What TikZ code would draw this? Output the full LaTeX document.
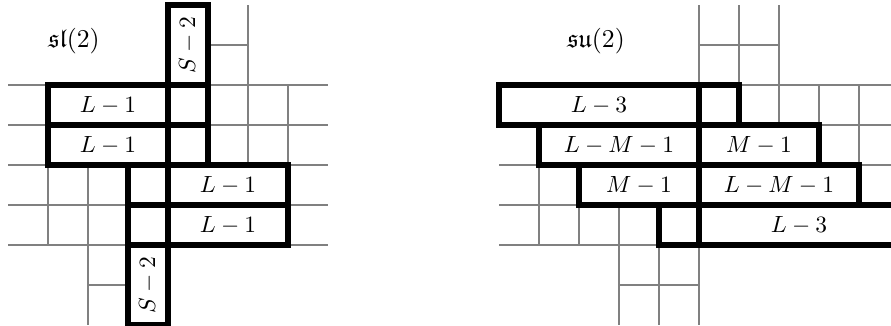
\documentclass[tikz,border=0pt]{standalone}
\usepackage{amssymb}
\usetikzlibrary{fit}
\begin{document}
\begin{tikzpicture}[x=0.6cm,y=-0.6cm,
  gridline/.style={draw=gray, line width=0.8pt},
  cellbox/.style={draw=black, line width=2.6pt, inner sep=0pt, outer sep=0pt, fit={#1}},
  lbl/.style={inner sep=0pt},
  ttl/.style={inner sep=0pt, font=\fontsize{11}{13}\selectfont}
]
\clip (-0.2,-0.125) rectangle (22.075,8);
% ---------------- left panel: sl(2) ----------------
\draw[gridline] (5,1) -- (6,1);
\draw[gridline] (6,0) -- (6,4);
\draw[gridline] (7,2) -- (7,4);
\foreach \r in {2,...,6} {\draw[gridline] (0,\r) -- (8,\r);}
\draw[gridline] (1,4) -- (1,6);
\draw[gridline] (2,4) -- (2,8);
\draw[gridline] (2,7) -- (3,7);

\node[cellbox={(4,0)(5,2)}] (ls1) {};
\node[cellbox={(1,2)(4,3)}] (la) {};
\node[cellbox={(4,2)(5,3)}] (lac) {};
\node[cellbox={(1,3)(4,4)}] (lb) {};
\node[cellbox={(4,3)(5,4)}] (lbc) {};
\node[cellbox={(3,4)(4,5)}] (lcc) {};
\node[cellbox={(4,4)(7,5)}] (lc) {};
\node[cellbox={(3,5)(4,6)}] (ldc) {};
\node[cellbox={(4,5)(7,6)}] (ld) {};
\node[cellbox={(3,6)(4,8)}] (ls2) {};
\node[lbl, rotate=90] (ls1t) at (ls1.center) {$S-2$};
\node[lbl] (lat) at (la.center) {$L-1$};
\node[lbl] (lbt) at (lb.center) {$L-1$};
\node[lbl] (lct) at (lc.center) {$L-1$};
\node[lbl] (ldt) at (ld.center) {$L-1$};
\node[lbl, rotate=90] (ls2t) at (ls2.center) {$S-2$};
\node[ttl] (lt) at (1.65,0.9) {$\mathfrak{sl}(2)$};

% ---------------- right panel: su(2) ----------------
\begin{scope}[shift={(12.275,0)}]
\draw[gridline] (5,0) -- (5,2);
\draw[gridline] (6,0) -- (6,2);
\draw[gridline] (7,0) -- (7,3);
\draw[gridline] (8,2) -- (8,3);
\draw[gridline] (9,2) -- (9,4);
\draw[gridline] (5,1) -- (7,1);
\draw[gridline] (6,2) -- (11,2);
\draw[gridline] (8,3) -- (11,3);
\draw[gridline] (9,4) -- (11,4);
\draw[gridline] (0,4) -- (1,4);
\draw[gridline] (0,5) -- (2,5);
\draw[gridline] (0,6) -- (4,6);
\draw[gridline] (3,7) -- (5,7);
\draw[gridline] (1,4) -- (1,6);
\draw[gridline] (2,5) -- (2,6);
\draw[gridline] (3,5) -- (3,8);
\draw[gridline] (4,6) -- (4,8);
\draw[gridline] (5,6) -- (5,8);

\node[cellbox={(0,2)(5,3)}] (ra) {};
\node[cellbox={(5,2)(6,3)}] (rac) {};
\node[cellbox={(1,3)(5,4)}] (rb) {};
\node[cellbox={(5,3)(8,4)}] (rb2) {};
\node[cellbox={(2,4)(5,5)}] (rc) {};
\node[cellbox={(5,4)(9,5)}] (rc2) {};
\node[cellbox={(4,5)(5,6)}] (rdc) {};
\node[cellbox={(5,5)(10,6)}] (rd) {};
\node[lbl] (rat) at (ra.center) {$L-3$};
\node[lbl] (rbt) at (rb.center) {$L-M-1$};
\node[lbl] (rb2t) at (rb2.center) {$M-1$};
\node[lbl] (rct) at (rc.center) {$M-1$};
\node[lbl] (rc2t) at (rc2.center) {$L-M-1$};
\node[lbl] (rdt) at (rd.center) {$L-3$};
\node[ttl] (rt) at (2.425,0.9) {$\mathfrak{su}(2)$};
\end{scope}
\end{tikzpicture}
\end{document}
